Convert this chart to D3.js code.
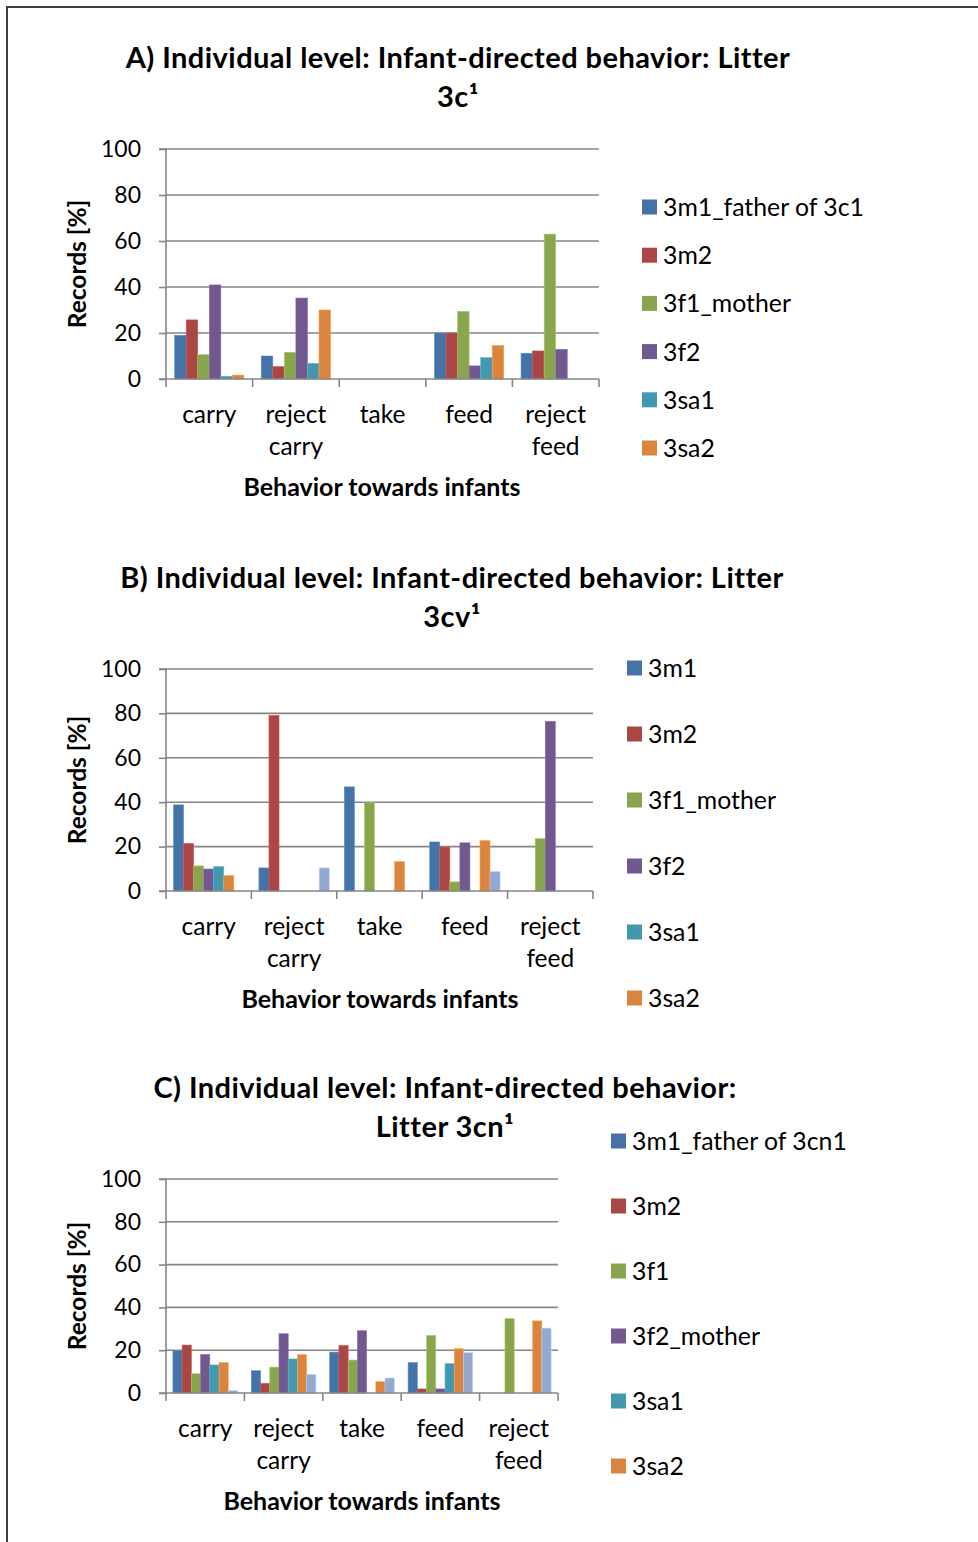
<!DOCTYPE html>
<html>
<head>
<meta charset="utf-8">
<script src="https://cdn.jsdelivr.net/npm/d3@7"></script>
<style>
  html, body { margin: 0; padding: 0; background: #fff; }
  svg { display: block; }
  text { font-family: Lato, "Open Sans", sans-serif; fill: #000; }
</style>
</head>
<body>
<svg id="fig" width="978" height="1542"></svg>
<script>
// Behaviour categories shared by all three panels
const categories = [["carry"], ["reject", "carry"], ["take"], ["feed"], ["reject", "feed"]];
const yTicks = [0, 20, 40, 60, 80, 100];
const colors = ["#4573A7", "#AA4643", "#89A54E", "#71588F", "#4198AF", "#DB843D", "#93A9CF"];

// Panel A: Litter 3c1 (records per individual, %)
const legendA = ["3m1_father of 3c1", "3m2", "3f1_mother", "3f2", "3sa1", "3sa2"];
const a_3m1 = [19, 10, 0, 20, 11.2];
const a_3m2 = [25.7, 5.4, 0, 20, 12.2];
const a_3f1 = [10.6, 11.6, 0, 29.4, 63];
const a_3f2 = [40.9, 35.2, 0, 5.7, 12.9];
const a_3sa1 = [1.2, 6.8, 0, 9.3, 0];
const a_3sa2 = [1.7, 30, 0, 14.6, 0];

// Panel B: Litter 3cv1
const legendB = ["3m1", "3m2", "3f1_mother", "3f2", "3sa1", "3sa2"];
const b_3m1 = [38.8, 10.4, 46.9, 22.1, 0];
const b_3m2 = [21.4, 79.1, 0, 19.8, 0];
const b_3f1 = [11.3, 0, 39.7, 4.1, 23.6];
const b_3f2 = [9.9, 0, 0, 21.7, 76.4];
const b_3sa1 = [11, 0, 0, 0, 0];
const b_3sa2 = [6.9, 0, 13.2, 22.7, 0];
const b_s7 = [0, 10.4, 0, 8.7, 0];

// Panel C: Litter 3cn1
const legendC = ["3m1_father of 3cn1", "3m2", "3f1", "3f2_mother", "3sa1", "3sa2"];
const c_3m1 = [19.8, 10.4, 19.1, 14.2, 0];
const c_3m2 = [22.4, 4.5, 22.2, 1.9, 0];
const c_3f1 = [9.0, 12.1, 15.4, 26.9, 34.8];
const c_3f2 = [18.0, 27.7, 29.1, 1.9, 0];
const c_3sa1 = [13.1, 15.9, 0, 13.7, 0];
const c_3sa2 = [14.2, 17.9, 5.3, 20.7, 33.7];
const c_s7 = [1.1, 8.7, 7.0, 18.8, 30.3];

const svg = d3.select("#fig");

// outer frame (left and top edges)
svg.append("path")
  .attr("d", "M7,1542V7H978")
  .attr("fill", "none").attr("stroke", "#3f3f3f").attr("stroke-width", 2);

function drawPanel(p) {
  const g = svg.append("g");
  const x = d3.scaleBand().domain(d3.range(categories.length)).range([p.left, p.right]).paddingInner(0).paddingOuter(0);
  const xs = d3.scaleBand().domain(d3.range(p.series.length)).range([0, x.bandwidth()]).paddingInner(0).paddingOuter(0.75);
  const y = d3.scaleLinear().domain([0, 100]).range([p.bottom, p.top]);

  // title
  const t = g.append("text").attr("text-anchor", "middle").attr("font-weight", "bold")
    .attr("font-size", 29).attr("letter-spacing", 0.45);
  p.title.forEach((line, i) => {
    t.append("tspan").attr("x", p.titleX).attr("y", p.titleY + i * 39).text(line);
  });

  // gridlines
  g.append("g").selectAll("line").data(yTicks.filter(d => d > 0)).join("line")
    .attr("x1", p.left).attr("x2", p.right)
    .attr("y1", d => y(d)).attr("y2", d => y(d))
    .attr("stroke", "#868686").attr("stroke-width", 1.6);

  // bars
  p.series.forEach((vals, si) => {
    g.append("g").selectAll("rect").data(vals).join("rect")
      .attr("x", (d, ci) => x(ci) + xs(si))
      .attr("width", xs.bandwidth())
      .attr("y", d => y(d))
      .attr("height", d => y(0) - y(d))
      .attr("fill", colors[si])
      .attr("stroke", d => d > 0 ? d3.color(colors[si]).brighter(0.6) : "none")
      .attr("stroke-width", 0.6);
  });

  // y axis
  const ya = g.append("g").attr("transform", `translate(${p.left},0)`)
    .call(d3.axisLeft(y).tickValues(yTicks).tickSize(7).tickPadding(18).tickFormat(d3.format("d")));
  ya.select(".domain").attr("stroke", "#868686").attr("stroke-width", 1.6).attr("d", `M-7,${y(0)}H0V${y(100)}H-7`);
  ya.selectAll(".tick line").attr("stroke", "#868686").attr("stroke-width", 1.6);
  ya.selectAll(".tick text").attr("font-size", 23).attr("font-family", "Lato, sans-serif").attr("fill", "#000");

  // x axis with boundary ticks
  const xa = g.append("g");
  xa.append("line").attr("x1", p.left).attr("x2", p.right).attr("y1", y(0)).attr("y2", y(0))
    .attr("stroke", "#868686").attr("stroke-width", 1.6);
  const bounds = d3.range(categories.length + 1).map(i => i < categories.length ? x(i) : p.right);
  xa.selectAll("line.tk").data(bounds).join("line").attr("class", "tk")
    .attr("x1", d => d).attr("x2", d => d).attr("y1", y(0)).attr("y2", y(0) + 8)
    .attr("stroke", "#868686").attr("stroke-width", 1.6);

  // category labels
  categories.forEach((lines, ci) => {
    const tt = g.append("text").attr("text-anchor", "middle").attr("font-size", 24.5);
    lines.forEach((ln, li) => {
      tt.append("tspan").attr("x", x(ci) + x.bandwidth() / 2).attr("y", y(0) + 44 + li * 32).text(ln);
    });
  });

  // axis titles
  g.append("text").attr("text-anchor", "middle").attr("font-weight", "bold").attr("font-size", 25)
    .attr("x", p.xTitleX).attr("y", y(0) + 117).text("Behavior towards infants");
  g.append("text").attr("text-anchor", "middle").attr("font-weight", "bold").attr("font-size", 24.5)
    .attr("transform", `translate(86,${(p.top + p.bottom) / 2}) rotate(-90)`).text("Records [%]");

  // legend
  const lg = g.append("g");
  p.legend.forEach((name, i) => {
    const cy = p.legendY + i * p.legendStep;
    lg.append("rect").attr("x", p.legendX).attr("y", cy - 7.5).attr("width", 15).attr("height", 15).attr("fill", colors[i]);
    lg.append("text").attr("x", p.legendX + 21).attr("y", cy + 9).attr("font-size", 24.8).text(name);
  });
}

drawPanel({
  title: ["A) Individual level: Infant-directed behavior: Litter", "3c\u00B9"],
  titleX: 458, titleY: 68,
  left: 166, right: 599, top: 149, bottom: 379, xTitleX: 382,
  series: [a_3m1, a_3m2, a_3f1, a_3f2, a_3sa1, a_3sa2],
  legend: legendA, legendX: 642, legendY: 207, legendStep: 48.2
});

drawPanel({
  title: ["B) Individual level: Infant-directed behavior: Litter", "3cv\u00B9"],
  titleX: 452, titleY: 588,
  left: 166, right: 593, top: 669, bottom: 891, xTitleX: 380,
  series: [b_3m1, b_3m2, b_3f1, b_3f2, b_3sa1, b_3sa2, b_s7],
  legend: legendB, legendX: 627, legendY: 668, legendStep: 66
});

drawPanel({
  title: ["C) Individual level: Infant-directed behavior:", "Litter 3cn\u00B9"],
  titleX: 445, titleY: 1098,
  left: 166, right: 558, top: 1179, bottom: 1393, xTitleX: 362,
  series: [c_3m1, c_3m2, c_3f1, c_3f2, c_3sa1, c_3sa2, c_s7],
  legend: legendC, legendX: 611, legendY: 1141, legendStep: 65
});
</script>
</body>
</html>
